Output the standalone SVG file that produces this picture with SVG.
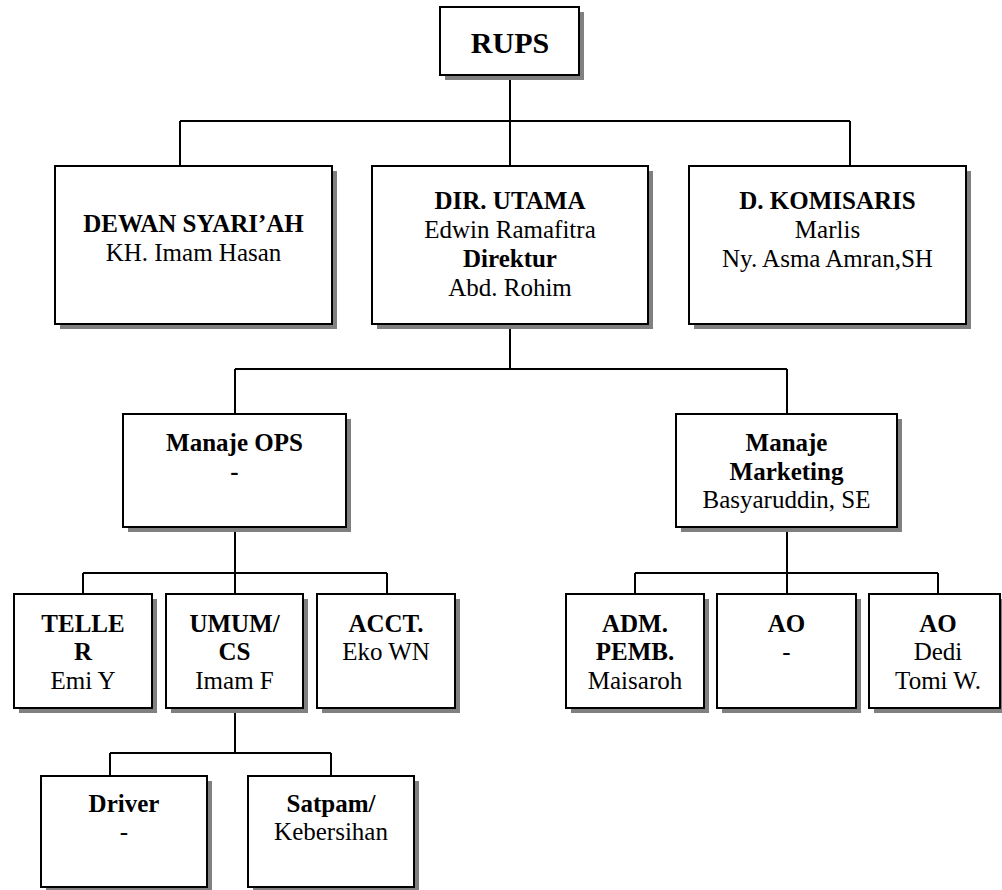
<svg xmlns="http://www.w3.org/2000/svg" width="1002" height="890" viewBox="0 0 1002 890">
  <style>
    .shadow { fill: #808080; }
    .box { fill: #ffffff; stroke: #000000; stroke-width: 2; }
    .conn { fill: none; stroke: #000000; stroke-width: 2; }
    text { font-family: 'Liberation Serif', 'DejaVu Serif', serif; font-size: 25px; fill: #000000; text-anchor: middle; }
    .b { font-weight: bold; }
    .title { font-size: 30px; font-weight: bold; }
  </style>
  <rect width="1002" height="890" fill="#ffffff"/>

  <!-- connectors -->
  <g id="connectors">
    <path class="conn" d="M510 76 V121 M180 121 H850 M180 121 V166 M510 121 V166 M850 121 V166"/>
    <path class="conn" d="M510 324 V369 M235 369 H787 M235 369 V414 M787 369 V414"/>
    <path class="conn" d="M235 527 V573 M83 573 H387 M83 573 V594 M235 573 V594 M387 573 V594"/>
    <path class="conn" d="M787 527 V573 M635 573 H938 M635 573 V594 M787 573 V594 M938 573 V594"/>
    <path class="conn" d="M235 708 V753 M110 753 H331 M110 753 V776 M331 753 V776"/>
  </g>

  <g font-family="Liberation Serif, serif">
  <g id="rups">
    <rect class="shadow" x="445" y="12" width="139" height="68"/>
    <rect class="box" x="440" y="7" width="139" height="68"/>
    <text class="title" x="510" y="53">RUPS</text>
  </g>

  <g id="dewan-syariah">
    <rect class="shadow" x="60" y="171" width="277" height="158"/>
    <rect class="box" x="55" y="166" width="277" height="158"/>
    <text class="b" x="193.5" y="232">DEWAN SYARI’AH</text>
    <text x="193.5" y="261">KH. Imam Hasan</text>
  </g>

  <g id="dir-utama">
    <rect class="shadow" x="377" y="171" width="276" height="158"/>
    <rect class="box" x="372" y="166" width="276" height="158"/>
    <text class="b" x="510" y="209">DIR. UTAMA</text>
    <text x="510" y="238">Edwin Ramafitra</text>
    <text class="b" x="510" y="267">Direktur</text>
    <text x="510" y="296">Abd. Rohim</text>
  </g>

  <g id="d-komisaris">
    <rect class="shadow" x="694" y="171" width="277" height="158"/>
    <rect class="box" x="689" y="166" width="277" height="158"/>
    <text class="b" x="827.5" y="209">D. KOMISARIS</text>
    <text x="827.5" y="238">Marlis</text>
    <text x="827.5" y="267">Ny. Asma Amran,SH</text>
  </g>

  <g id="manaje-ops">
    <rect class="shadow" x="128" y="419" width="223" height="113"/>
    <rect class="box" x="123" y="414" width="223" height="113"/>
    <text class="b" x="234.5" y="451">Manaje OPS</text>
    <text class="b" x="234.5" y="480">-</text>
  </g>

  <g id="manaje-marketing">
    <rect class="shadow" x="681" y="419" width="221" height="113"/>
    <rect class="box" x="676" y="414" width="221" height="113"/>
    <text class="b" x="786.5" y="451">Manaje</text>
    <text class="b" x="786.5" y="480">Marketing</text>
    <text x="786.5" y="508">Basyaruddin, SE</text>
  </g>

  <g id="teller">
    <rect class="shadow" x="19" y="599" width="138" height="114"/>
    <rect class="box" x="14" y="594" width="138" height="114"/>
    <text class="b" x="83" y="632">TELLE</text>
    <text class="b" x="83" y="660">R</text>
    <text x="83" y="689">Emi Y</text>
  </g>

  <g id="umum-cs">
    <rect class="shadow" x="171" y="599" width="137" height="114"/>
    <rect class="box" x="166" y="594" width="137" height="114"/>
    <text class="b" x="234.5" y="632">UMUM/</text>
    <text class="b" x="234.5" y="660">CS</text>
    <text x="234.5" y="689">Imam F</text>
  </g>

  <g id="acct">
    <rect class="shadow" x="322" y="599" width="138" height="114"/>
    <rect class="box" x="317" y="594" width="138" height="114"/>
    <text class="b" x="386" y="632">ACCT.</text>
    <text x="386" y="660">Eko WN</text>
  </g>

  <g id="adm-pemb">
    <rect class="shadow" x="571" y="599" width="138" height="114"/>
    <rect class="box" x="566" y="594" width="138" height="114"/>
    <text class="b" x="635" y="632">ADM.</text>
    <text class="b" x="635" y="660">PEMB.</text>
    <text x="635" y="689">Maisaroh</text>
  </g>

  <g id="ao-1">
    <rect class="shadow" x="722" y="599" width="139" height="114"/>
    <rect class="box" x="717" y="594" width="139" height="114"/>
    <text class="b" x="786.5" y="632">AO</text>
    <text x="786.5" y="660">-</text>
  </g>

  <g id="ao-2">
    <rect class="shadow" x="874" y="599" width="131" height="114"/>
    <rect class="box" x="869" y="594" width="131" height="114"/>
    <text class="b" x="938" y="632">AO</text>
    <text x="938" y="660">Dedi</text>
    <text x="938" y="689">Tomi W.</text>
  </g>

  <g id="driver">
    <rect class="shadow" x="46" y="781" width="166" height="112"/>
    <rect class="box" x="41" y="776" width="166" height="111"/>
    <text class="b" x="124" y="812">Driver</text>
    <text x="124" y="840">-</text>
  </g>

  <g id="satpam">
    <rect class="shadow" x="253" y="781" width="166" height="112"/>
    <rect class="box" x="248" y="776" width="166" height="111"/>
    <text class="b" x="331" y="812">Satpam/</text>
    <text x="331" y="840">Kebersihan</text>
  </g>
  </g>
</svg>
